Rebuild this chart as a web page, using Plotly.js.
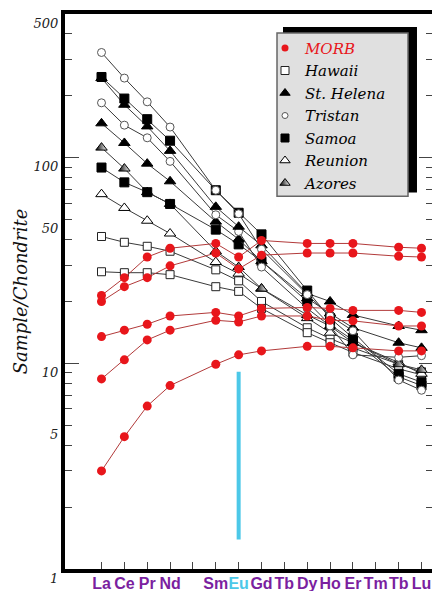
<!DOCTYPE html>
<html><head><meta charset="utf-8">
<script src="https://cdn.plot.ly/plotly-3.0.1.min.js"></script>
<style>html,body{margin:0;padding:0;overflow:hidden;background:#fff}</style>
</head><body><div id="chart" style="width:436px;height:591px"></div>
<script>
// Elements that carry data (Pm, Tb, Tm not analysed)
const elements = ['La','Ce','Pr','Nd','Sm','Eu','Gd','Dy','Ho','Er','Yb','Lu'];
// Full REE axis and the labels printed under it (as in the original figure)
const axisCategories = ['La','Ce','Pr','Nd','Pm','Sm','Eu','Gd','Tb','Dy','Ho','Er','Tm','Yb','Lu'];
const axisLabels = ['La','Ce','Pr','Nd','','Sm','Eu','Gd','Tb','Dy','Ho','Er','Tm','Tb','Lu'];

// MORB (red)
const morb1 = [21.4, 26.1, 32.9, 36.3, 38.3, 32.9, 39.6, 38.3, 38.3, 38.3, 36.7, 36.3];
const morb2 = [20.0, 23.6, 26.1, 29.8, 34.4, 28.8, 33.6, 34.4, 34.4, 34.4, 33.2, 32.9];
const morb3 = [13.5, 14.5, 15.5, 17.0, 17.7, 17.0, 18.5, 18.7, 18.5, 18.1, 18.1, 17.7];
const morb4 = [8.4, 10.4, 13.0, 14.5, 16.2, 15.9, 17.0, 17.0, 16.2, 16.1, 15.2, 15.2];
const morb5 = [3.0, 4.4, 6.2, 7.8, 9.9, 11.0, 11.5, 12.1, 12.1, 11.9, 11.5, 11.5];
// Ocean-island basalts
const hawaii1 = [41.4, 38.8, 37.1, 35.1, 28.5, 25.2, 20.0, 14.9, 13.2, 11.9, 9.9, 9.1];
const hawaii2 = [27.9, 27.6, 27.6, 27.0, 23.6, 22.4, 18.5, 14.1, 12.6, 11.3, 9.4, 8.8];
const stHelena1 = [244, 181, 142, 108, 57.7, 46.2, 37.5, 21.9, 20.0, 17.2, 15.2, 14.5];
const stHelena2 = [147, 118, 93.6, 76.8, 48.9, 40.1, 31.4, 20.7, 17.5, 14.9, 12.6, 11.9];
const tristan1 = [325, 244, 187, 141, 69.5, 53.4, 35.9, 21.6, 17.0, 14.4, 8.3, 7.4];
const tristan2 = [185, 144, 125, 96, 52.8, 43.8, 29.4, 18.5, 15.2, 11.0, 10.7, 10.9];
const samoa1 = [247, 194, 154, 121, 69.5, 54.0, 42.4, 22.6, 16.6, 13.3, 8.9, 8.1];
const samoa2 = [89.6, 75.9, 68.0, 59.6, 44.7, 37.9, 31.4, 20.0, 15.4, 13.0, 8.6, 7.8];
const reunion = [66.5, 57.0, 49.4, 42.8, 31.1, 27.3, 23.1, 16.6, 14.1, 12.6, 10.1, 8.9];
const azores = [112, 88.6, 68.0, 59.6, 35.1, 29.4, 23.1, 17.2, 15.2, 12.6, 9.9, 9.3];

// Eu marker bar
const euBarX = ['Eu', 'Eu'];
const euBarY = [9.1, 1.39];

// Y ticks
const yTickVals = [1,2,3,4,5,6,7,8,9,10,20,30,40,50,60,70,80,90,100,200,300,400,500];
const yLabelled = [1,5,10,50,100,500];
const yLongTicks = [10, 100];
const yRange = [0, 2.699];

const purple = '#7b1fa0', cyan = '#4cc8e8';
const red = '#e8161b', morbLine = '#b23a3a', oibLine = '#3a3a3a';

const styles = {
  MORB:   {symbol:'circle', color:red, line:{color:red, width:0}, size:9},
  Hawaii: {symbol:'square', color:'#fff', line:{color:'#222', width:1}, size:8},
  StH:    {symbol:'triangle-up', color:'#000', line:{color:'#000', width:1}, size:10},
  Tristan:{symbol:'circle', color:'#fff', line:{color:'#555', width:1}, size:8},
  Samoa:  {symbol:'square', color:'#000', line:{color:'#000', width:1}, size:9},
  Reunion:{symbol:'triangle-up', color:'#fff', line:{color:'#000', width:1}, size:10},
  Azores: {symbol:'triangle-up', color:'#000', gradient:{type:'horizontal', color:'#fff'}, line:{color:'#000', width:1}, size:10}
};

function series(y, st, lineColor, group) {
  return {x: elements, y: y, type:'scatter', mode:'lines+markers',
    line:{color:lineColor, width:1}, marker:st, showlegend:false, legendgroup:group, hoverinfo:'skip'};
}

const data = [
  series(hawaii1, styles.Hawaii, oibLine, 'h'),
  series(hawaii2, styles.Hawaii, oibLine, 'h'),
  series(reunion, styles.Reunion, oibLine, 'r'),
  series(azores, styles.Azores, oibLine, 'a'),
  series(samoa2, styles.Samoa, oibLine, 's'),
  series(stHelena2, styles.StH, oibLine, 'sh'),
  series(tristan2, styles.Tristan, oibLine, 't'),
  series(stHelena1, styles.StH, oibLine, 'sh'),
  series(samoa1, styles.Samoa, oibLine, 's'),
  series(tristan1, styles.Tristan, oibLine, 't'),
  series(morb1, styles.MORB, morbLine, 'm'),
  series(morb2, styles.MORB, morbLine, 'm'),
  series(morb3, styles.MORB, morbLine, 'm'),
  series(morb4, styles.MORB, morbLine, 'm'),
  series(morb5, styles.MORB, morbLine, 'm'),
  {x: euBarX, y: euBarY, type:'scatter', mode:'lines', line:{color:cyan, width:4}, showlegend:false, hoverinfo:'skip', yaxis:'y2'}
];

const legendEntries = [
  ['<span style="color:'+red+'">MORB</span>', 'MORB', 7],
  ['Hawaii', 'Hawaii', 8],
  ['St. Helena', 'StH', 9],
  ['Tristan', 'Tristan', 6],
  ['Samoa', 'Samoa', 8],
  ['Reunion', 'Reunion', 9],
  ['Azores', 'Azores', 9]
];
legendEntries.forEach(function(e){
  const st = Object.assign({}, styles[e[1]], {size:e[2]});
  data.push({x:[null], y:[null], type:'scatter', mode:'markers', name:e[0], marker:st, showlegend:true, hoverinfo:'skip'});
});

const layout = {
  width: 436, height: 591,
  margin: {l:65, r:3, t:14, b:22},
  paper_bgcolor:'#fff', plot_bgcolor:'#fff',
  showlegend: true,
  legend: {x:0.5435, y:0.968, xanchor:'left', yanchor:'top', bgcolor:'rgba(0,0,0,0)', borderwidth:0,
    font:{family:'DejaVu Serif', size:15, style:'italic', color:'#000'}, itemwidth:30, tracegroupgap:0},
  xaxis: {type:'category', categoryorder:'array', categoryarray:axisCategories, range:[-1.597, 14.503],
    tickmode:'array', tickvals:axisCategories,
    ticktext: axisLabels.map(function(t){ return t === 'Eu' ? '<span style="color:'+cyan+'">Eu</span>' : t; }),
    tickangle:0,
    ticks:'inside', ticklen:7, tickwidth:1, tickcolor:'#444',
    showline:true, linewidth:4, linecolor:'#000', mirror:true, showgrid:false, zeroline:false,
    ticklabelstandoff:-3,
    tickfont:{family:'Liberation Sans', size:16, weight:'bold', color:purple}},
  yaxis: {type:'log', range:yRange, tickmode:'array', tickvals:yTickVals,
    ticktext: yTickVals.map(function(v){ return yLabelled.indexOf(v) >= 0 ? String(v) : ''; }),
    ticks:'inside', ticklen:7, tickwidth:1, tickcolor:'#444',
    showline:true, linewidth:4, linecolor:'#000', mirror:'ticks', showgrid:false, zeroline:false,
    ticklabelshift:9,
    tickfont:{family:'DejaVu Serif', size:13, style:'italic', color:'#222'},
    title:{text:'Sample/Chondrite', font:{family:'DejaVu Serif', size:18, style:'italic', color:'#111'}, standoff:2}},
  yaxis2: {type:'log', overlaying:'y', anchor:'x', side:'left', range:yRange, tickmode:'array', tickvals:yLongTicks,
    ticks:'inside', ticklen:14, tickwidth:1, tickcolor:'#444', showticklabels:false,
    showline:true, linewidth:4, linecolor:'#000', mirror:'ticks', showgrid:false, zeroline:false},
  shapes: [
    {type:'rect', xref:'paper', yref:'paper', x0:0.5924, x1:0.9565, y0:0.6786, y1:0.9767, fillcolor:'#000', line:{width:0}, layer:'above'},
    {type:'rect', xref:'paper', yref:'paper', x0:0.5761, x1:0.9321, y0:0.6715, y1:0.9659, fillcolor:'#e0e0e0', line:{color:'#666', width:1.5}, layer:'above'}
  ]
};

Plotly.newPlot('chart', data, layout, {staticPlot:true, displayModeBar:false});
</script>
</body></html>
